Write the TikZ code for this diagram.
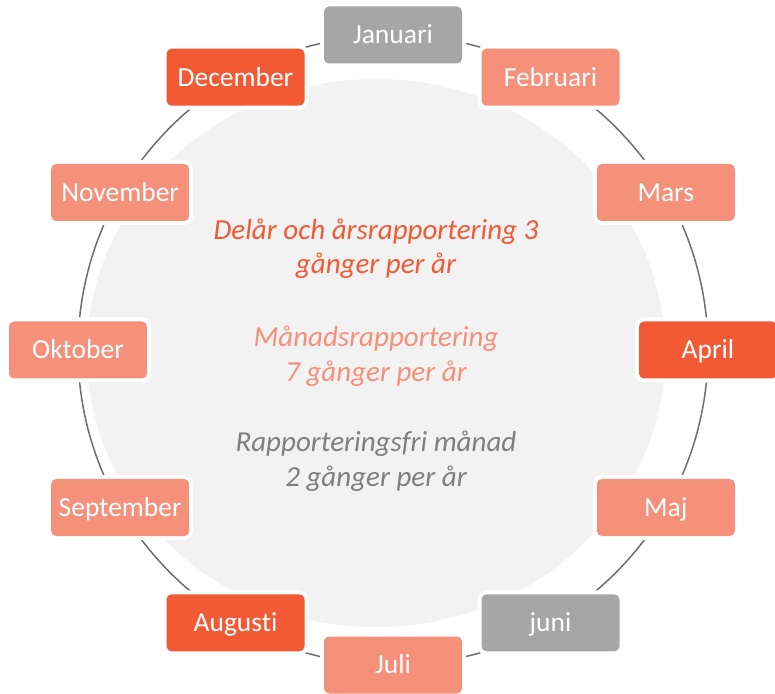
\documentclass[tikz,border=0pt]{standalone}
\usepackage{fontspec}
\setmainfont{Carlito}[Ligatures=NoCommon]
\definecolor{dark}{RGB}{241,90,53}
\definecolor{salmon}{RGB}{245,144,122}
\definecolor{boxgray}{RGB}{166,166,166}
\definecolor{ringgray}{RGB}{110,110,110}
\definecolor{fillgray}{RGB}{242,242,242}
\definecolor{textgray}{RGB}{127,127,127}
\begin{document}
\begin{tikzpicture}[x=1pt,y=1pt,
  month/.style={preaction={draw=white,line width=8pt},rounded corners=5pt,
    minimum width=138pt,minimum height=57pt,inner sep=0pt,
    text height=17.7pt,text depth=0pt,text=white,
    font=\fontsize{27.5}{33}\selectfont},
  mdark/.style={month,fill=dark},
  msalmon/.style={month,fill=salmon},
  mgray/.style={month,fill=boxgray},
  info/.style={anchor=base,font=\fontsize{29}{35}\selectfont\itshape}]
\useasboundingbox (0,0) rectangle (775,693);
\coordinate (c) at (393,343);
\coordinate (e) at (376,340);
\fill[fillgray] (e) ellipse [x radius=289, y radius=274];
\draw[ringgray,line width=1.5pt] (c) circle [radius=315];
\node[mgray]   (jan) at ([shift={(90:315)}]c) {Januari};
\node[msalmon] (feb) at ([shift={(60:315)}]c) {Februari};
\node[msalmon] (mar) at ([shift={(30:315)}]c) {Mars};
\node[mdark]   (apr) at ([shift={(0:315)}]c) {April};
\node[msalmon] (maj) at ([shift={(-30:315)}]c) {Maj};
\node[mgray]   (jun) at ([shift={(-60:315)}]c) {juni};
\node[msalmon] (jul) at ([shift={(-90:315)}]c) {Juli};
\node[mdark]   (aug) at ([shift={(-120:315)}]c) {Augusti};
\node[msalmon] (sep) at ([shift={(-150:315)}]c) {September};
\node[msalmon] (okt) at ([shift={(180:315)}]c) {Oktober};
\node[msalmon] (nov) at ([shift={(150:315)}]c) {November};
\node[mdark]   (dec) at ([shift={(120:315)}]c) {December};
\node[info,text=dark] (t1) at (376,453) {Delår och årsrapportering 3};
\node[info,text=dark] (t2) at (376,419) {gånger per år};
\node[info,text=salmon] (t3) at (376,346) {Månadsrapportering};
\node[info,text=salmon] (t4) at (376,311) {7 gånger per år};
\node[info,text=textgray] (t5) at (376,241) {Rapporteringsfri månad};
\node[info,text=textgray] (t6) at (376,206) {2 gånger per år};
\end{tikzpicture}
\end{document}
